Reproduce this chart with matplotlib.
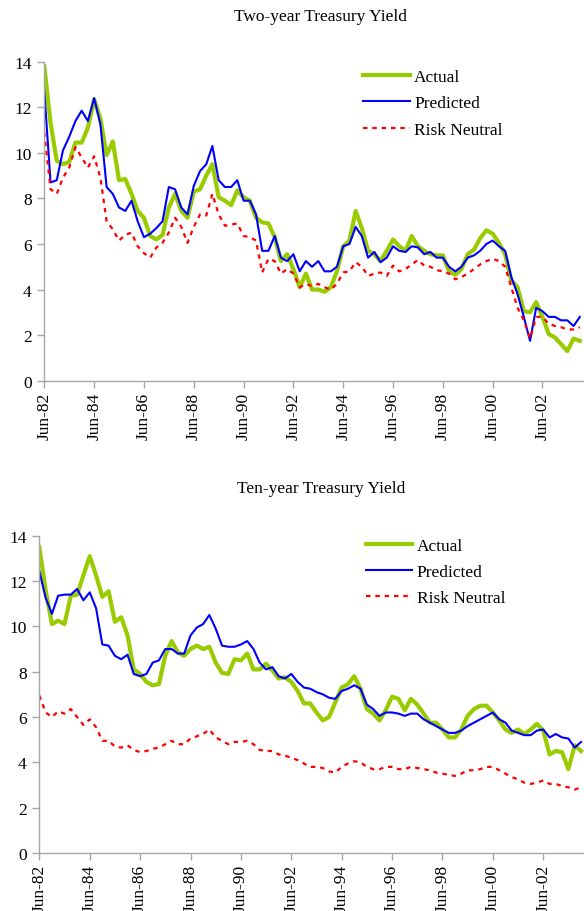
import numpy as np
import pandas as pd
import matplotlib
matplotlib.use('Agg')
import matplotlib.pyplot as plt
import matplotlib.dates as mdates

# quarterly readings, Jun-82 .. Dec-03
dates = pd.date_range('1982-06-01', periods=87, freq='3MS')

two_actual = [
    13.8, 11.3, 9.65,
    9.5, 9.6, 10.45, 10.45,
    11.1, 12.35, 11.5, 9.9,
    10.5, 8.8, 8.85, 8.2,
    7.45, 7.15, 6.35, 6.2,
    6.4, 7.6, 8.2, 7.45,
    7.15, 8.3, 8.4, 9.0,
    9.5, 8.05, 7.9, 7.7,
    8.35, 8.05, 7.9, 7.15,
    6.95, 6.9, 6.3, 5.25,
    5.55, 4.9, 4.1, 4.7,
    4.0, 4.0, 3.9, 4.1,
    4.8, 5.9, 6.15, 7.45,
    6.7, 5.7, 5.55, 5.25,
    5.7, 6.2, 5.9, 5.7,
    6.35, 5.9, 5.7, 5.55,
    5.5, 5.5, 4.8, 4.65,
    4.9, 5.55, 5.75, 6.25,
    6.6, 6.45, 6.05, 5.55,
    4.4, 4.1, 3.05, 3.0,
    3.45, 2.8, 2.05, 1.9,
    1.6, 1.3, 1.85, 1.75,
]
two_predicted = [
    12.7, 8.7, 8.8,
    10.1, 10.7, 11.4, 11.85,
    11.4, 12.4, 11.25, 8.5,
    8.2, 7.6, 7.45, 7.9,
    7.0, 6.3, 6.45, 6.7,
    7.0, 8.5, 8.4, 7.6,
    7.3, 8.55, 9.2, 9.5,
    10.3, 8.8, 8.5, 8.5,
    8.8, 7.9, 7.9, 7.3,
    5.7, 5.7, 6.35, 5.4,
    5.25, 5.55, 4.8, 5.25,
    5.0, 5.25, 4.8, 4.8,
    5.0, 5.9, 6.0, 6.75,
    6.35, 5.4, 5.65, 5.2,
    5.4, 5.9, 5.7, 5.65,
    5.9, 5.85, 5.55, 5.65,
    5.4, 5.4, 5.0, 4.8,
    5.0, 5.4, 5.5, 5.7,
    6.0, 6.15, 5.9, 5.7,
    4.55, 3.8, 2.8, 1.75,
    3.2, 3.05, 2.8, 2.8,
    2.65, 2.65, 2.4, 2.8,
]
two_riskneutral = [
    10.9, 8.4, 8.2,
    8.9, 9.35, 10.25, 9.8,
    9.35, 9.85, 8.9, 7.0,
    6.65, 6.15, 6.4, 6.5,
    5.9, 5.6, 5.4, 5.85,
    6.05, 6.5, 7.15, 6.75,
    6.05, 6.75, 7.3, 7.25,
    8.2, 7.3, 6.8, 6.85,
    6.9, 6.35, 6.3, 6.15,
    4.75, 5.35, 5.25, 4.7,
    4.9, 4.7, 4.1, 4.25,
    4.15, 4.25, 4.1, 4.0,
    4.25, 4.75, 4.8, 5.2,
    5.0, 4.6, 4.7, 4.75,
    4.6, 5.05, 4.8, 4.9,
    5.1, 5.3, 5.05, 5.0,
    4.85, 4.8, 4.7, 4.45,
    4.55, 4.7, 4.9, 5.1,
    5.25, 5.35, 5.25, 5.0,
    4.1, 3.2, 2.65, 1.85,
    2.8, 2.8, 2.5, 2.4,
    2.35, 2.25, 2.25, 2.35,
]

ten_actual = [
    13.5, 11.6, 10.1,
    10.25, 10.1, 11.35, 11.4,
    12.25, 13.1, 12.25, 11.3,
    11.55, 10.2, 10.4, 9.6,
    8.1, 7.9, 7.55, 7.4,
    7.45, 8.7, 9.35, 8.85,
    8.7, 9.0, 9.15, 9.0,
    9.1, 8.4, 7.95, 7.9,
    8.55, 8.5, 8.8, 8.1,
    8.1, 8.35, 8.05, 7.7,
    7.75, 7.55, 7.15, 6.6,
    6.6, 6.2, 5.85, 6.0,
    6.65, 7.3, 7.45, 7.8,
    7.25, 6.35, 6.15, 5.85,
    6.3, 6.9, 6.8, 6.3,
    6.8, 6.55, 6.15, 5.75,
    5.75, 5.45, 5.1, 5.1,
    5.45, 6.05, 6.35, 6.5,
    6.5, 6.2, 5.85, 5.45,
    5.3, 5.45, 5.25, 5.45,
    5.7, 5.4, 4.35, 4.5,
    4.45, 3.7, 4.75, 4.5,
]
ten_predicted = [
    12.45, 11.25, 10.55,
    11.35, 11.4, 11.4, 11.65,
    11.15, 11.5, 10.8, 9.2,
    9.15, 8.7, 8.55, 8.75,
    7.9, 7.8, 7.9, 8.4,
    8.5, 9.0, 9.0, 8.8,
    8.8, 9.6, 9.95, 10.1,
    10.5, 9.9, 9.15, 9.1,
    9.1, 9.2, 9.35, 9.0,
    8.4, 8.1, 8.2, 7.8,
    7.7, 7.9, 7.55, 7.3,
    7.25, 7.1, 7.0, 6.85,
    6.8, 7.15, 7.25, 7.4,
    7.25, 6.55, 6.35, 6.05,
    6.2, 6.2, 6.15, 6.05,
    6.15, 6.15, 5.9, 5.75,
    5.6, 5.45, 5.3, 5.3,
    5.4, 5.6, 5.75, 5.9,
    6.05, 6.2, 5.9, 5.75,
    5.4, 5.3, 5.2, 5.2,
    5.4, 5.45, 5.1, 5.25,
    5.1, 5.05, 4.65, 4.9,
]
ten_riskneutral = [
    6.95, 6.2, 6.0,
    6.25, 6.15, 6.35, 6.0,
    5.65, 5.9, 5.55, 4.95,
    4.95, 4.7, 4.65, 4.75,
    4.55, 4.45, 4.5, 4.6,
    4.65, 4.8, 4.95, 4.8,
    4.8, 5.05, 5.15, 5.25,
    5.45, 5.1, 4.95, 4.8,
    4.9, 4.9, 4.95, 4.8,
    4.55, 4.5, 4.5, 4.35,
    4.3, 4.2, 4.1, 3.95,
    3.8, 3.8, 3.75, 3.6,
    3.55, 3.8, 3.95, 4.05,
    4.0, 3.8, 3.7, 3.7,
    3.8, 3.8, 3.7, 3.7,
    3.8, 3.75, 3.7, 3.65,
    3.55, 3.5, 3.45, 3.4,
    3.5, 3.65, 3.65, 3.7,
    3.8, 3.8, 3.65, 3.5,
    3.35, 3.25, 3.1, 3.05,
    3.1, 3.2, 3.05, 3.05,
    2.95, 2.9, 2.8, 2.9,
]

tick_dates = pd.date_range('1982-06-01', '2002-06-01', freq='24MS')

GREEN = '#99cc00'
BLUE = '#0000ff'
RED = '#ff0000'
GRAY = '#a6a6a6'

plt.rcParams['font.family'] = ['Liberation Serif', 'DejaVu Serif']
plt.rcParams['font.size'] = 12.5

W, H = 584, 912
fig = plt.figure(figsize=(W / 100, H / 100), dpi=100)


def panel(left_px, top_px, bottom_px, right_month, title, title_y, actual, predicted, rn, leg_xy):
    ax = fig.add_axes([left_px / W, 1 - bottom_px / H, 1 - left_px / W, (bottom_px - top_px) / H])
    ax.plot(dates, actual, color=GREEN, lw=3.0, label='Actual', solid_joinstyle='round')
    ax.plot(dates, predicted, color=BLUE, lw=1.5, label='Predicted')
    ax.plot(dates, rn, color=RED, lw=1.6, linestyle=(0, (2.0, 2.2)), label='Risk Neutral')
    ax.set_ylim(0, 14)
    ax.set_yticks(range(0, 15, 2))
    ax.set_xlim(dates[0], dates[0] + pd.Timedelta(days=right_month * 30.44))
    ax.set_xticks(tick_dates)
    ax.xaxis.set_major_formatter(mdates.DateFormatter('%b-%y'))
    for lbl in ax.get_xticklabels():
        lbl.set_rotation(90)
    for s in ['top', 'right']:
        ax.spines[s].set_visible(False)
    for s in ['left', 'bottom']:
        ax.spines[s].set_color(GRAY)
        ax.spines[s].set_linewidth(1.0)
    ax.tick_params(direction='out', length=5, width=1.0, color=GRAY, labelsize=12.5, pad=4)
    ax.tick_params(axis='x', pad=3)
    fig.text(321 / W, 1 - title_y / H, title, ha='center', va='center', fontsize=12.5)
    ax.legend(loc='upper left', bbox_to_anchor=(leg_xy[0] / W, 1 - leg_xy[1] / H),
              bbox_transform=fig.transFigure, frameon=False, fontsize=12.5,
              handlelength=2.7, handletextpad=0.25, labelspacing=0.58,
              borderpad=0, borderaxespad=0)
    return ax


panel(44.3, 62.7, 381.7, 260, 'Two-year Treasury Yield', 17,
      two_actual, two_predicted, two_riskneutral, (363, 70))
panel(39.3, 536.7, 854, 259.4, 'Ten-year Treasury Yield', 489,
      ten_actual, ten_predicted, ten_riskneutral, (365.5, 538.5))

fig.savefig('out.png', dpi=100)
